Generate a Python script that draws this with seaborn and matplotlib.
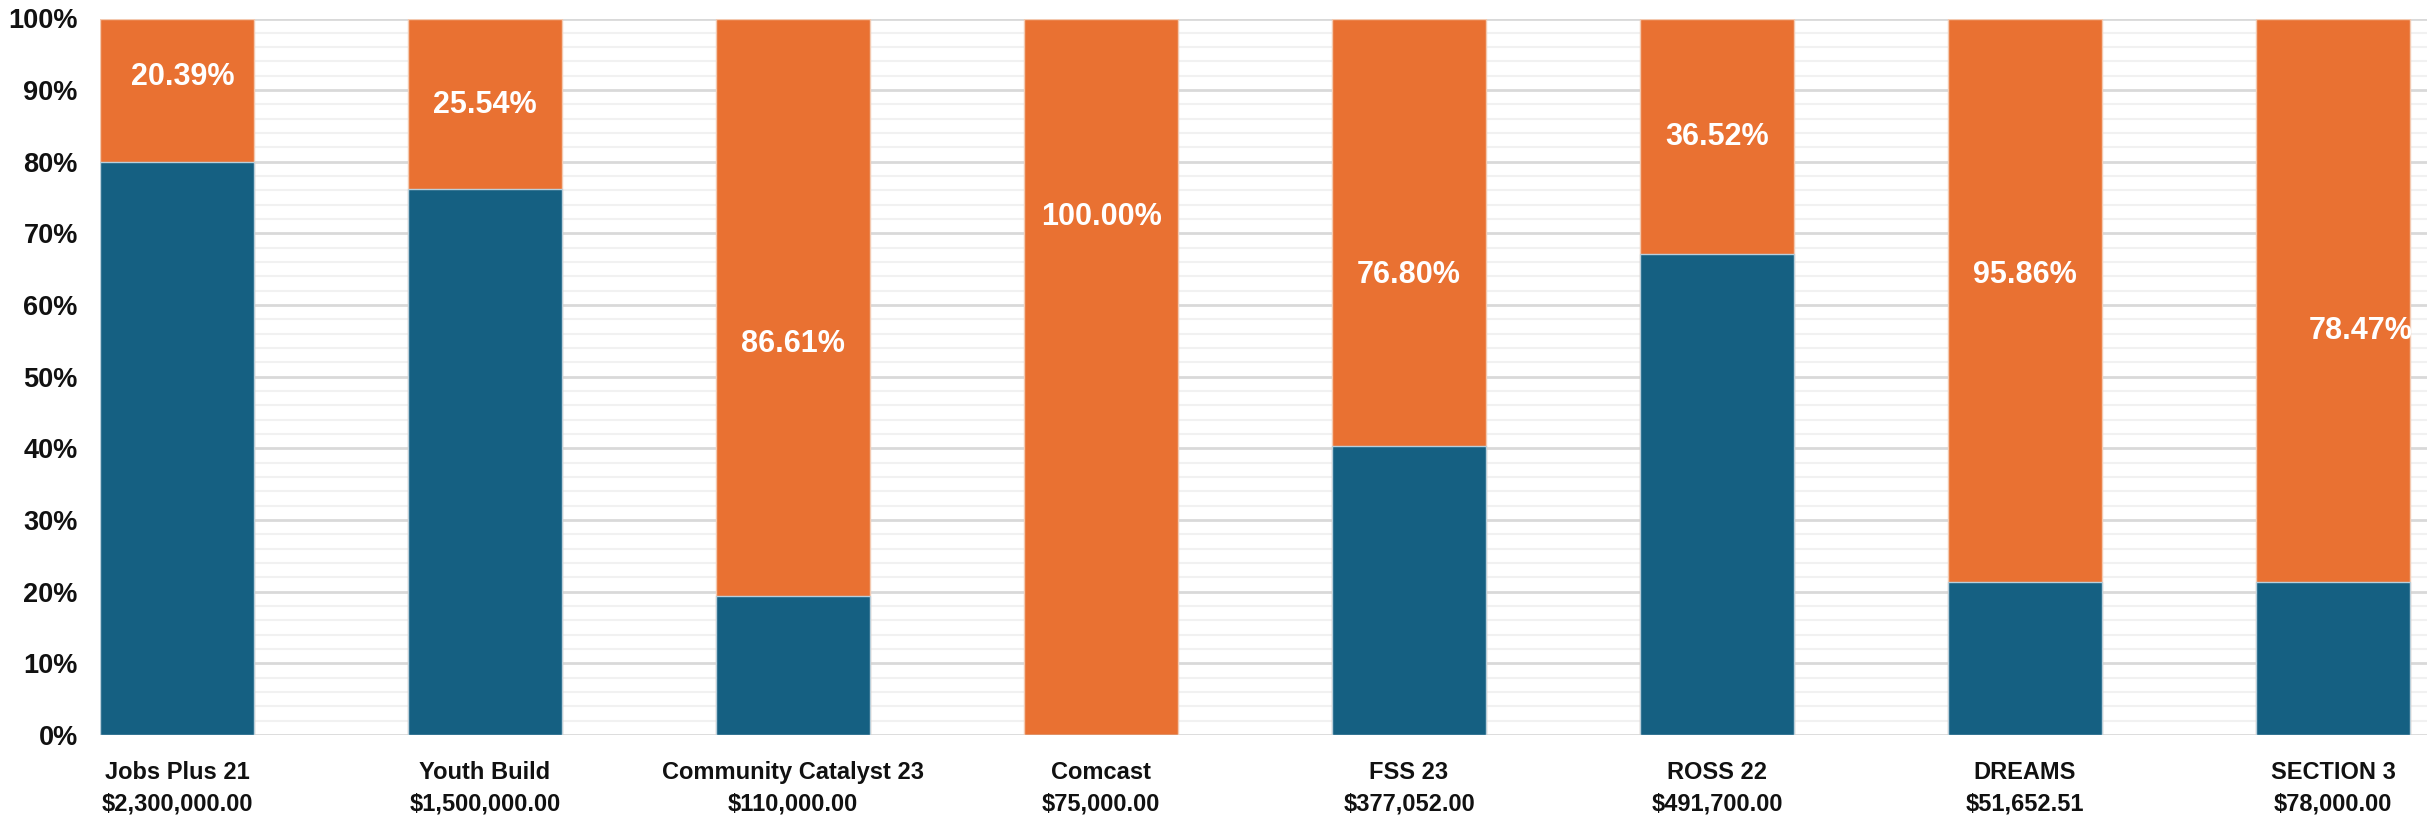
import matplotlib
matplotlib.use("Agg")
import matplotlib.pyplot as plt
from matplotlib.ticker import MultipleLocator, PercentFormatter
import seaborn as sns
import pandas as pd

# Programs and their award amounts
programs = ["Jobs Plus 21", "Youth Build", "Community Catalyst 23", "Comcast",
            "FSS 23", "ROSS 22", "DREAMS", "SECTION 3"]
awards = ["$2,300,000.00", "$1,500,000.00", "$110,000.00", "$75,000.00",
          "$377,052.00", "$491,700.00", "$51,652.51", "$78,000.00"]

# Series values (stacked to 100% per program)
elapsed = [81.56, 81.78, 20.85, 0.0, 52.06, 74.82, 26.10, 21.37]
remaining = [20.39, 25.54, 86.61, 100.00, 76.80, 36.52, 95.86, 78.47]

# Label placement inside the orange segment (percent of axis height, x nudge)
label_y = [91.9, 87.9, 54.6, 72.3, 64.2, 83.5, 64.2, 56.4]
label_dx = [0.02, 0.0, 0.0, 0.0, 0.0, 0.0, 0.0, 0.09]

BLUE = "#156082"
ORANGE = "#E97132"

cats = [f"{p}\n{a.replace('$', chr(92) + '$')}" for p, a in zip(programs, awards)]
df = pd.DataFrame({"cat": cats, "elapsed": elapsed, "remaining": remaining})
df["total"] = df["elapsed"] + df["remaining"]
df["blue_share"] = df["elapsed"] / df["total"] * 100
df["full"] = df["total"] / df["total"] * 100

sns.set_theme(style="white")
plt.rcParams["font.family"] = ["Liberation Sans", "DejaVu Sans"]

fig = plt.figure(figsize=(24.27, 8.15), dpi=100)
ax = fig.add_axes([100 / 2427, 1 - 735 / 815, 1 - 100 / 2427, (735 - 18.5) / 815])

# Minor and major horizontal gridlines
ax.yaxis.set_major_locator(MultipleLocator(10))
ax.yaxis.set_minor_locator(MultipleLocator(2))
ax.grid(which="minor", axis="y", color="#f1f1f1", linewidth=1.5, zorder=0)
ax.grid(which="major", axis="y", color="#d9d9d9", linewidth=2.0, zorder=0)
ax.set_axisbelow(True)

sns.barplot(data=df, x="cat", y="full", color=ORANGE, saturation=1, width=0.5,
            edgecolor="#f3c9b0", linewidth=1.0, ax=ax, zorder=2)
sns.barplot(data=df, x="cat", y="blue_share", color=BLUE, saturation=1, width=0.5,
            edgecolor="#b9cfdb", linewidth=1.0, ax=ax, zorder=3)

for i, (val, y, dx) in enumerate(zip(remaining, label_y, label_dx)):
    ax.text(i + dx, y, f"{val:.2f}%", ha="center", va="center", color="white",
            fontsize=22, fontweight="bold", zorder=5)

ax.set_xlim(-0.25, 7.305)
ax.set_ylim(0, 100)
ax.yaxis.set_major_formatter(PercentFormatter(decimals=0))
ax.set_xlabel("")
ax.set_ylabel("")
for s in ax.spines.values():
    s.set_visible(False)
ax.tick_params(axis="y", which="both", length=0, pad=16, labelsize=19.5)
ax.tick_params(axis="x", length=0, pad=19, labelsize=17)
for lab in ax.get_yticklabels() + ax.get_xticklabels():
    lab.set_fontweight("heavy")
    lab.set_color("#111111")
for lab in ax.get_xticklabels():
    lab.set_linespacing(1.45)

fig.savefig("out.png", dpi=100, facecolor="white")
